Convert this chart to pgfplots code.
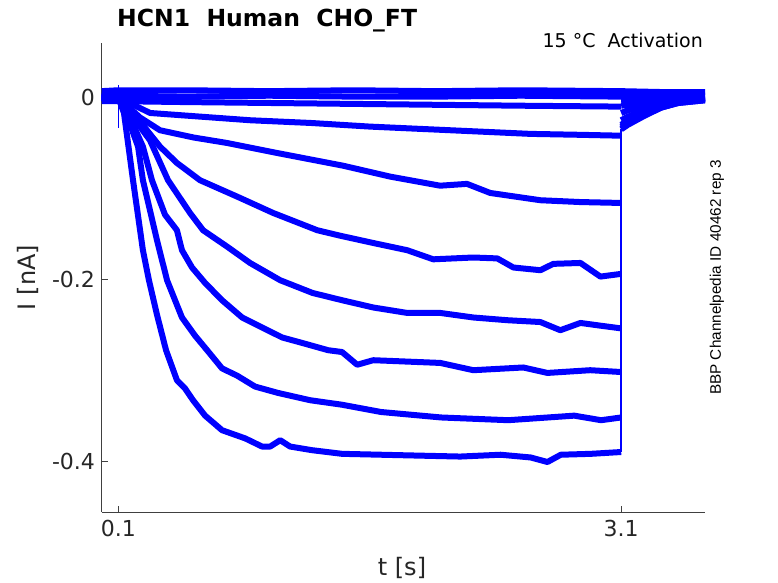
\documentclass[border=0pt]{standalone}
\usepackage{pgfplots}
\pgfplotsset{compat=1.18}
\usepackage{fontspec}
\setmainfont{DejaVu Sans}
\newfontfamily\helv{Liberation Sans}
\definecolor{axgray}{RGB}{64,64,64}
\definecolor{txt}{RGB}{38,38,38}
\definecolor{trace}{RGB}{0,0,255}
\tikzset{tr/.style={trace, line width=6bp, line join=round, line cap=butt, mark=none},
         thin/.style={trace, line width=1.6bp, mark=none}}
\begin{document}
\begin{tikzpicture}
\path[use as bounding box] (0,0) rectangle (778bp,583bp);
\begin{axis}[
  at={(101.5bp,71bp)}, anchor=south west,
  scale only axis, width=603.5bp, height=469bp,
  xmin=0, xmax=3.6, ymin=-0.456, ymax=0.06,
  axis x line*=bottom, axis y line*=left,
  axis line style={-, axgray, line width=0.6bp},
  xtick={0.1,3.1}, xticklabels={0.1,3.1},
  ytick={-0.4,-0.2,0}, yticklabels={-0.4,-0.2,0},
  tick align=inside, major tick length=6bp,
  tick style={axgray, line width=0.6bp},
  ticklabel style={font=\fontsize{22bp}{26bp}\selectfont, text=txt},
  xticklabel style={yshift=-5bp},
  yticklabel style={xshift=-3bp},
]
% near-zero traces
\addplot[tr] coordinates {(0,0.007) (0.1,0.008) (0.5,0.008) (1.0,0.007) (1.5,0.008) (2.0,0.007) (2.5,0.008) (3.1,0.007) (3.35,0.006) (3.6,0.006)};
\addplot[tr] coordinates {(0,0.002) (0.1,0.002) (0.5,0.001) (1.0,0.002) (1.5,0.001) (2.0,0.001) (2.5,0.002) (3.1,0.001) (3.35,0.002) (3.6,0.002)};
\addplot[tr] coordinates {(0,-0.004) (0.1,-0.004) (0.5,-0.005) (1.0,-0.006) (1.5,-0.007) (2.0,-0.008) (2.5,-0.009) (3.1,-0.010)};
\addplot[tr] coordinates {(3.1,-0.004) (3.3,-0.002) (3.6,-0.002)};
% trace 3
\addplot[tr] coordinates {(0,0) (0.1,0) (0.29,-0.017) (0.887,-0.025) (1.25,-0.028) (1.603,-0.032) (2.081,-0.036) (2.559,-0.040) (2.85,-0.041) (3.1,-0.042)};
\addplot[tr] coordinates {(3.1,-0.009) (3.14,-0.008) (3.24,-0.005) (3.34,-0.003) (3.44,-0.002) (3.6,0)};
% trace 4
\addplot[tr] coordinates {(0,0) (0.1,0) (0.23,-0.022) (0.349,-0.036) (0.55,-0.044) (0.749,-0.050) (1.047,-0.061) (1.441,-0.075) (1.722,-0.087) (2.02,-0.097) (2.18,-0.095) (2.319,-0.105) (2.618,-0.113) (2.857,-0.115) (3.1,-0.116)};
\addplot[tr] coordinates {(3.1,-0.017) (3.14,-0.014) (3.24,-0.010) (3.34,-0.006) (3.44,-0.003) (3.6,-0.001)};
% trace 5
\addplot[tr] coordinates {(0,0) (0.1,0) (0.2,-0.019) (0.271,-0.036) (0.349,-0.054) (0.45,-0.072) (0.588,-0.091) (0.809,-0.109) (1.024,-0.127) (1.287,-0.146) (1.423,-0.152) (1.62,-0.160) (1.824,-0.168) (1.979,-0.178) (2.218,-0.176) (2.361,-0.177) (2.457,-0.187) (2.618,-0.190) (2.695,-0.183) (2.857,-0.182) (2.976,-0.197) (3.1,-0.194)};
\addplot[tr] coordinates {(3.1,-0.025) (3.14,-0.021) (3.24,-0.014) (3.34,-0.008) (3.44,-0.004) (3.6,-0.001)};
% trace 6
\addplot[tr] coordinates {(0,0) (0.1,0) (0.17,-0.017) (0.289,-0.047) (0.397,-0.091) (0.528,-0.127) (0.606,-0.146) (0.749,-0.164) (0.886,-0.182) (1.066,-0.201) (1.259,-0.215) (1.435,-0.223) (1.621,-0.231) (1.824,-0.237) (2.021,-0.237) (2.218,-0.242) (2.421,-0.245) (2.618,-0.247) (2.737,-0.256) (2.857,-0.248) (2.976,-0.251) (3.1,-0.254)};
\addplot[tr] coordinates {(3.1,-0.030) (3.14,-0.025) (3.24,-0.017) (3.34,-0.009) (3.44,-0.005) (3.6,-0.002)};
% trace 7
\addplot[tr] coordinates {(0,0) (0.1,0) (0.158,-0.017) (0.247,-0.054) (0.301,-0.091) (0.379,-0.129) (0.45,-0.146) (0.48,-0.168) (0.54,-0.187) (0.618,-0.204) (0.719,-0.223) (0.839,-0.242) (0.958,-0.253) (1.078,-0.264) (1.197,-0.270) (1.352,-0.278) (1.435,-0.280) (1.525,-0.294) (1.621,-0.289) (2.021,-0.292) (2.218,-0.300) (2.516,-0.297) (2.66,-0.303) (2.915,-0.300) (3.1,-0.302)};
\addplot[tr] coordinates {(3.1,-0.032) (3.14,-0.027) (3.24,-0.018) (3.34,-0.010) (3.44,-0.005) (3.6,-0.002)};
% trace 8
\addplot[tr] coordinates {(0,0) (0.1,0) (0.146,-0.017) (0.218,-0.054) (0.247,-0.091) (0.331,-0.157) (0.391,-0.201) (0.48,-0.242) (0.558,-0.262) (0.63,-0.278) (0.719,-0.298) (0.809,-0.306) (0.916,-0.318) (1.053,-0.325) (1.244,-0.333) (1.435,-0.338) (1.668,-0.346) (2.026,-0.352) (2.426,-0.355) (2.82,-0.350) (2.98,-0.355) (3.1,-0.352)};
\addplot[tr] coordinates {(3.1,-0.034) (3.14,-0.029) (3.24,-0.019) (3.34,-0.011) (3.44,-0.006) (3.6,-0.003)};
% trace 9
\addplot[tr] coordinates {(0,0) (0.1,0) (0.134,-0.017) (0.188,-0.091) (0.247,-0.168) (0.283,-0.201) (0.331,-0.239) (0.385,-0.278) (0.45,-0.311) (0.498,-0.320) (0.546,-0.333) (0.618,-0.350) (0.719,-0.366) (0.857,-0.375) (0.958,-0.384) (1.006,-0.384) (1.066,-0.377) (1.125,-0.384) (1.256,-0.388) (1.435,-0.392) (1.668,-0.393) (1.9,-0.394) (2.14,-0.395) (2.38,-0.393) (2.56,-0.396) (2.66,-0.401) (2.74,-0.393) (2.92,-0.392) (3.1,-0.390)};
\addplot[tr] coordinates {(3.1,-0.035) (3.14,-0.030) (3.24,-0.020) (3.34,-0.011) (3.44,-0.006) (3.6,-0.003)};
% jumps at the step edges
\addplot[thin] coordinates {(3.1,-0.390) (3.1,-0.035)};
\addplot[trace, line width=0.9bp, mark=none] coordinates {(0.1,0.014) (0.1,-0.033)};
\end{axis}
\node[anchor=base west, inner sep=0, text=black, font=\fontsize{23.5bp}{28bp}\selectfont\bfseries] at (117bp,556bp) {HCN1\ \ Human\ \ CHO\_FT};
\node[anchor=base east, inner sep=0, text=black, font=\fontsize{19bp}{23bp}\selectfont] at (703bp,535.7bp) {15 °C\ \ Activation};
\node[rotate=90, inner sep=0, text=black, font=\helv\fontsize{15.3bp}{18bp}\selectfont] at (717bp,305.5bp) {BBP Channelpedia ID 40462 rep 3};
\node[rotate=90, inner sep=0, text=txt, font=\fontsize{24bp}{28bp}\selectfont] at (27.5bp,305.5bp) {I [nA]};
\node[inner sep=0, text=txt, font=\fontsize{24bp}{28bp}\selectfont] at (402bp,15.5bp) {t [s]};
\end{tikzpicture}
\end{document}
